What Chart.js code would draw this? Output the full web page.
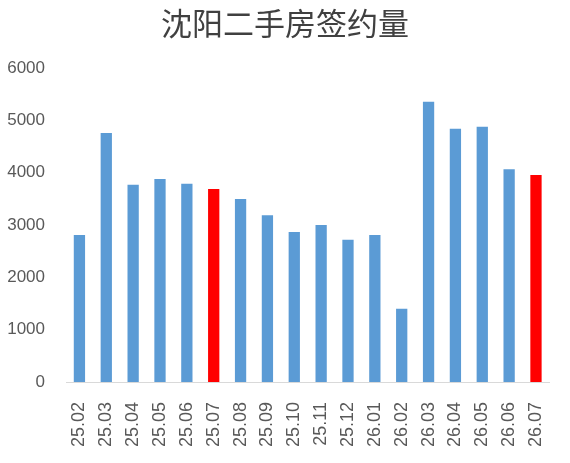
<!DOCTYPE html>
<html>
<head>
<meta charset="utf-8">
<script src="https://cdn.jsdelivr.net/npm/chart.js@4.4.0/dist/chart.umd.min.js"></script>
<style>
  body { margin: 0; background: #fff; }
  #wrap { width: 570px; height: 463px; }
</style>
</head>
<body>
<div id="wrap"><canvas id="chart"></canvas></div>
<script>
// 月份
const meses = ['25.02', '25.03', '25.04', '25.05', '25.06', '25.07', '25.08', '25.09', '25.10',
    '25.11', '25.12', '26.01', '26.02', '26.03', '26.04', '26.05', '26.06', '26.07'];
// 签约量(套)
const valores = [2810, 4760, 3770, 3880, 3790, 3690, 3500, 3190, 2870,
    3000, 2720, 2810, 1400, 5360, 4840, 4880, 4070, 3960];
const destacados = ['25.07', '26.07'];
const yTicks = [0, 1000, 2000, 3000, 4000, 5000, 6000];

const colores = meses.map(m => destacados.includes(m) ? '#FF0000' : '#5B9BD5');

const ctx = document.getElementById('chart');

new Chart(ctx, {
    type: 'bar',
    data: {
        labels: meses,
        datasets: [{
            label: '沈阳二手房签约量',
            data: valores,
            backgroundColor: colores,
            borderWidth: 0,
            barPercentage: 0.42,
            categoryPercentage: 1
        }]
    },
    options: {
        responsive: true,
        maintainAspectRatio: false,
        animation: false,
        layout: {
            padding: 0
        },
        scales: {
            x: {
                grid: { display: false },
                border: { color: '#d9d9d9', width: 1 },
                ticks: {
                    color: '#595959',
                    minRotation: 90,
                    maxRotation: 90,
                    padding: 12,
                    font: { family: 'Liberation Sans', size: 18 }
                },
                afterFit: (scale) => { scale.height = 81; }
            },
            y: {
                min: 0,
                max: 6000,
                afterBuildTicks: (scale) => { scale.ticks = yTicks.map(v => ({ value: v })); },
                grid: { display: false },
                border: { display: false },
                ticks: {
                    color: '#595959',
                    padding: 13,
                    font: { family: 'Liberation Sans', size: 17 },
                    callback: (v) => String(v)
                },
                afterFit: (scale) => { scale.width = 66; }
            },
            // 右侧留白
            derecha: {
                position: 'right',
                min: 0,
                max: 6000,
                grid: { display: false },
                border: { display: false },
                ticks: { display: false },
                afterFit: (scale) => { scale.width = 15; }
            }
        },
        plugins: {
            legend: { display: false },
            tooltip: { enabled: false },
            title: {
                display: true,
                text: '沈阳二手房签约量',
                color: '#404040',
                font: { family: 'Noto Sans CJK SC', size: 31, weight: 'normal' },
                padding: { top: 5, bottom: 26 }
            }
        }
    }
});
</script>
</body>
</html>
